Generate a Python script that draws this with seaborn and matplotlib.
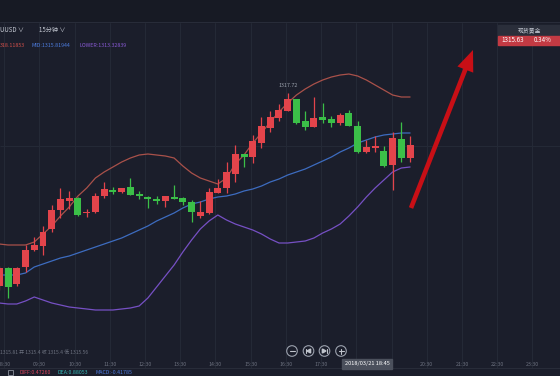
import numpy as np
import pandas as pd
import matplotlib
matplotlib.use("Agg")
import matplotlib.pyplot as plt
import seaborn as sns
from matplotlib.patches import Rectangle, Circle, FancyArrow, Polygon

# ---------------- data ----------------
open_ = [1310.01, 1310.73, 1310.09, 1310.77, 1311.45, 1311.61, 1312.29, 1313.05, 1313.41, 1313.53,
         1312.93, 1312.97, 1313.61, 1313.85, 1313.77, 1313.97, 1313.68, 1313.58, 1313.49, 1313.41,
         1313.58, 1313.54, 1313.38, 1312.81, 1312.92, 1313.74, 1313.92, 1314.49, 1315.29, 1315.16,
         1315.74, 1316.32, 1316.74, 1317.02, 1317.48, 1316.61, 1316.38, 1316.76, 1316.68, 1316.52,
         1316.94, 1316.42, 1315.38, 1315.52, 1315.42, 1314.85, 1315.89, 1315.12]
high = [1310.81, 1310.77, 1310.77, 1311.65, 1311.97, 1312.41, 1313.25, 1313.93, 1313.81, 1313.57,
        1313.09, 1313.73, 1314.17, 1313.97, 1313.93, 1314.33, 1313.81, 1313.61, 1313.61, 1313.61,
        1314.05, 1313.57, 1313.45, 1313.42, 1313.94, 1314.28, 1314.98, 1315.65, 1315.31, 1316.05,
        1316.76, 1317.02, 1317.28, 1317.72, 1317.49, 1317.01, 1317.58, 1317.34, 1316.81, 1316.92,
        1317.05, 1316.62, 1315.85, 1316.01, 1315.61, 1316.18, 1316.56, 1316.01]
low = [1309.85, 1309.53, 1310.01, 1310.57, 1311.41, 1311.25, 1312.17, 1312.73, 1313.09, 1312.81,
       1312.77, 1312.93, 1313.53, 1313.69, 1313.73, 1313.65, 1313.49, 1313.13, 1313.29, 1313.17,
       1313.49, 1313.25, 1312.58, 1312.72, 1312.89, 1313.71, 1313.72, 1314.18, 1314.76, 1314.94,
       1315.52, 1316.18, 1316.62, 1317.01, 1316.49, 1316.25, 1316.37, 1316.54, 1316.36, 1316.45,
       1316.39, 1315.32, 1315.34, 1315.38, 1314.76, 1313.85, 1314.98, 1314.98]
close = [1310.73, 1309.97, 1310.73, 1311.45, 1311.65, 1312.17, 1313.05, 1313.49, 1313.53, 1312.85,
         1312.97, 1313.61, 1313.89, 1313.77, 1313.93, 1313.65, 1313.62, 1313.50, 1313.41, 1313.61,
         1313.50, 1313.36, 1312.98, 1312.98, 1313.76, 1313.94, 1314.58, 1315.29, 1315.16, 1315.82,
         1316.41, 1316.78, 1317.05, 1317.48, 1316.54, 1316.38, 1316.74, 1316.65, 1316.54, 1316.85,
         1316.41, 1315.36, 1315.56, 1315.61, 1314.81, 1315.92, 1315.12, 1315.64]

upper = [1311.69, 1311.65, 1311.65, 1311.65, 1311.77, 1312.09, 1312.41, 1312.81, 1313.17, 1313.61,
         1313.93, 1314.33, 1314.57, 1314.77, 1314.97, 1315.13, 1315.25, 1315.29, 1315.25, 1315.21,
         1315.13, 1314.81, 1314.53, 1314.33, 1314.21, 1314.09, 1314.33, 1314.89, 1315.25, 1315.73,
         1316.13, 1316.57, 1316.97, 1317.33, 1317.65, 1317.89, 1318.09, 1318.25, 1318.37, 1318.45,
         1318.49, 1318.41, 1318.25, 1318.05, 1317.85, 1317.65, 1317.57, 1317.57]
mid = [1310.45, 1310.45, 1310.45, 1310.53, 1310.77, 1310.89, 1311.01, 1311.13, 1311.21, 1311.33,
       1311.45, 1311.57, 1311.69, 1311.81, 1311.93, 1312.09, 1312.25, 1312.41, 1312.61, 1312.77,
       1312.93, 1313.13, 1313.29, 1313.37, 1313.49, 1313.57, 1313.61, 1313.69, 1313.81, 1313.89,
       1314.01, 1314.17, 1314.29, 1314.45, 1314.57, 1314.69, 1314.85, 1315.01, 1315.17, 1315.37,
       1315.53, 1315.73, 1315.85, 1315.97, 1316.05, 1316.09, 1316.13, 1316.13]
lower = [1309.33, 1309.29, 1309.29, 1309.41, 1309.57, 1309.45, 1309.33, 1309.25, 1309.17, 1309.13,
         1309.09, 1309.05, 1309.05, 1309.05, 1309.09, 1309.13, 1309.21, 1309.53, 1309.97, 1310.41,
         1310.85, 1311.37, 1311.85, 1312.29, 1312.61, 1312.85, 1312.65, 1312.49, 1312.37, 1312.25,
         1312.09, 1311.89, 1311.73, 1311.73, 1311.77, 1311.81, 1311.93, 1312.13, 1312.29, 1312.49,
         1312.81, 1313.17, 1313.57, 1313.93, 1314.25, 1314.57, 1314.73, 1314.77]

time_labels = ["08:30", "09:30", "10:30", "11:30", "12:30", "13:30", "14:30", "15:30",
               "16:30", "17:30", "18:30", "19:30", "20:30", "21:30", "22:30", "23:30"]
high_label = "1317.72"
legend_texts = ["318.11853", "MID:1315.81944", "LOWER:1313.32839"]
symbol_text = "UUSD \u2228"
period_text = "15分钟 \u2228"
quote_title = "现货黄金"
quote_price = "1315.63"
quote_change = "0.34%"
cursor_time = "2018/03/21 18:45"
info_text = "1315.81 开 1315.4 收 1315.4 低 1315.56"
macd_texts = ["DIFF:0.47260", "DEA:0.88053", "MACD:-0.41785"]

# ---------------- style ----------------
BG = "#1b1e2b"
GRID = "#252a37"
RED = "#e3444b"
GREEN = "#3bbf48"
C_UP = "#a9514a"
C_MID = "#3d6cc0"
C_LOW = "#7650c4"
TXT = "#c5c9d3"
DIM = "#6c717f"
CJK = ["Noto Sans CJK SC", "DejaVu Sans"]

sns.set_theme(style="dark")
plt.rcParams["font.family"] = CJK

W, H = 560, 376
fig = plt.figure(figsize=(W / 100, H / 100), dpi=100)
fig.patch.set_facecolor(BG)

# main price axes spanning the whole figure
PX0, STEP = -0.7, 8.74          # pixel centre of first candle, pixel step
PRICE_TOP, PX_PER = 1321.45, 25.0
def i_of(px): return (px - PX0) / STEP
def p_of(py): return PRICE_TOP - py / PX_PER

ax = fig.add_axes([0, 0, 1, 1])
ax.set_facecolor("none")

df = pd.DataFrame({"i": np.arange(len(open_)), "open": open_, "high": high,
                   "low": low, "close": close, "upper": upper, "mid": mid, "lower": lower})

# grid
tick_pos = 0.55 + 4.03 * np.arange(len(time_labels))
ax.vlines(tick_pos, p_of(368), p_of(22), color=GRID, lw=0.7, zorder=0)
ax.hlines([p_of(146)], i_of(0), i_of(W), color=GRID, lw=0.7, zorder=0)

# bollinger bands
sns.lineplot(data=df, x="i", y="upper", ax=ax, color=C_UP, lw=0.9, legend=False, zorder=2)
sns.lineplot(data=df, x="i", y="mid", ax=ax, color=C_MID, lw=0.9, legend=False, zorder=2)
sns.lineplot(data=df, x="i", y="lower", ax=ax, color=C_LOW, lw=0.9, legend=False, zorder=2)

# candles
up = df["close"] >= df["open"]
cols = np.where(up, RED, GREEN)
ax.vlines(df["i"], df["low"], df["high"], colors=cols, lw=0.9, zorder=3)
body_lo = np.minimum(df["open"], df["close"])
body_h = np.maximum(np.abs(df["close"] - df["open"]), 0.045)
ax.bar(df["i"], body_h, bottom=body_lo, width=0.8, color=cols, linewidth=0, zorder=4)

imax = int(np.argmax(high))
ax.annotate(high_label, (imax, high[imax]), xytext=(0, 3.5), textcoords="offset points",
            ha="center", va="bottom", fontsize=3.9, color="#9aa0ab", family=CJK)

ax.set_xlim(i_of(0), i_of(W))
ax.set_ylim(p_of(H), p_of(0))
ax.axis("off")

# ---------------- overlay in pixel coordinates ----------------
ov = fig.add_axes([0, 0, 1, 1])
ov.set_xlim(0, W)
ov.set_ylim(H, 0)
ov.axis("off")
ov.set_facecolor("none")

# top bar
ov.add_patch(Rectangle((0, 0), W, 22, color="#171a24", zorder=1))
ov.plot([0, W], [22, 22], color="#282c39", lw=0.8)

ov.text(0, 29.5, symbol_text, fontsize=4.4, color=TXT, va="center", ha="left", family=CJK)
ov.text(39, 29.5, period_text, fontsize=4.4, color=TXT, va="center", ha="left", family=CJK)

leg_cols = ["#d2504a", "#4d7de0", "#8a5ad6"]
leg_x = [0, 31, 79]
for t, c, x in zip(legend_texts, leg_cols, leg_x):
    ov.text(x, 45.5, t, fontsize=3.8, color=c, va="center", ha="left", family=CJK)

# quote box
ov.add_patch(Rectangle((498, 25), 62, 10, color="#2a2e3a", zorder=2))
ov.text(529, 30, quote_title, fontsize=4.2, color=TXT, ha="center", va="center", zorder=3, family=CJK)
ov.add_patch(Rectangle((498, 35.5), 62, 9.5, color="#c33a43", zorder=2))
ov.text(501, 40.3, quote_price, fontsize=4.5, color="white", ha="left", va="center", zorder=3)
ov.text(534, 40.3, quote_change, fontsize=4.5, color="white", ha="left", va="center", zorder=3)

# red arrow
ov.add_patch(FancyArrow(411, 208, 62, -158, width=4.6, head_width=17, head_length=21,
                        length_includes_head=True, color="#c80f16", lw=0, zorder=5))

# bottom info line & time axis
ov.text(0, 352.5, info_text, fontsize=3.6, color=DIM, ha="left", va="center", family=CJK)
box_l, box_r = 342, 392
for t, pos in zip(time_labels, tick_pos):
    px = PX0 + STEP * pos
    if box_l < px < box_r:
        continue  # fully hidden under the cursor time box
    ov.text(px, 364, t, fontsize=3.8, color=DIM, ha="center", va="center")

# zoom buttons
bx = [292, 308.5, 324.5, 341]
for x in bx:
    ov.add_patch(Circle((x, 351), 5.3, fill=False, ec="#9ba1ad", lw=0.8, zorder=4))
ov.plot([289.5, 294.5], [351, 351], color="#c0c4cc", lw=0.8, zorder=5)
ov.plot([306.3, 306.3], [349, 353], color="#c0c4cc", lw=0.8, zorder=5)
ov.add_patch(Polygon([[307, 351], [310.6, 349], [310.6, 353]], color="#c0c4cc", zorder=5))
ov.plot([326.7, 326.7], [349, 353], color="#c0c4cc", lw=0.8, zorder=5)
ov.add_patch(Polygon([[326, 351], [322.4, 349], [322.4, 353]], color="#c0c4cc", zorder=5))
ov.plot([338.5, 343.5], [351, 351], color="#c0c4cc", lw=0.8, zorder=5)
ov.plot([341, 341], [348.5, 353.5], color="#c0c4cc", lw=0.8, zorder=5)

# cursor time box
ov.add_patch(Rectangle((box_l, 358.5), box_r - box_l, 10, color="#4b505c", zorder=6))
ov.text(367, 363.5, cursor_time, fontsize=4.1, color="white", ha="center", va="center", zorder=7)

# MACD strip
ov.plot([0, W], [368, 368], color="#282c39", lw=0.8)
ov.add_patch(Rectangle((7.5, 370), 5, 5, fill=False, ec="#8a8f9b", lw=0.6))
macd_cols = ["#d9435a", "#35b8b6", "#4d7be0"]
macd_x = [19, 58, 96]
for t, c, x in zip(macd_texts, macd_cols, macd_x):
    ov.text(x, 373, t, fontsize=3.8, color=c, ha="left", va="center")

fig.savefig("out.png", dpi=100, facecolor=BG)
